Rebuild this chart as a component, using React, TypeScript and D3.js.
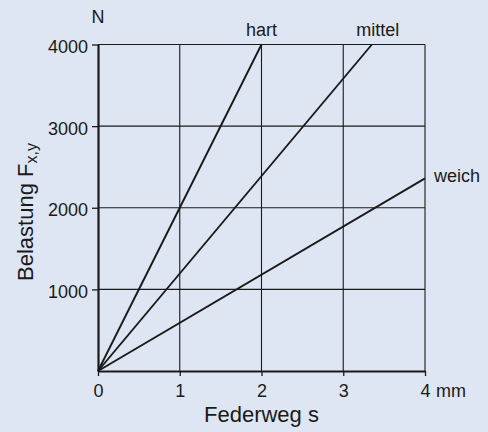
import { useEffect, useRef } from "react";
import * as d3 from "d3";

const xTicks = [0, 1, 2, 3, 4];
const yTicks = [1000, 2000, 3000, 4000];
const springNames = ["hart", "mittel", "weich"];
const hartPoints: [number, number][] = [[0, 0], [2, 4000]];
const mittelPoints: [number, number][] = [[0, 0], [3.35, 4000]];
const weichPoints: [number, number][] = [[0, 0], [4, 2360]];

export default function App() {
  const svgRef = useRef<SVGSVGElement>(null);

  useEffect(() => {
    document.body.style.margin = "0";
    if (!svgRef.current) return;
    const svg = d3.select(svgRef.current);
    svg.selectAll("*").remove();

    const W = 488;
    const H = 432;
    const font = "'Liberation Sans', Arial, Helvetica, sans-serif";
    const ink = "#1a1a1a";

    svg.append("rect").attr("width", W).attr("height", H).attr("fill", "#dee6f3");

    const x = d3.scaleLinear().domain([0, 4]).range([98, 425]);
    const y = d3.scaleLinear().domain([0, 4000]).range([371, 44.5]);

    // grid
    const grid = svg.append("g").attr("stroke", ink).attr("stroke-width", 1.1);
    grid.selectAll(".gx")
      .data(xTicks.filter((d) => d > 0))
      .enter()
      .append("line")
      .attr("x1", (d) => x(d))
      .attr("x2", (d) => x(d))
      .attr("y1", y(4000))
      .attr("y2", y(0));
    grid.selectAll(".gy")
      .data(yTicks)
      .enter()
      .append("line")
      .attr("x1", x(0))
      .attr("x2", x(4))
      .attr("y1", (d) => y(d))
      .attr("y2", (d) => y(d));

    // axes
    const yAxis = d3.axisLeft(y).tickValues(yTicks).tickSize(6).tickSizeOuter(0).tickFormat(d3.format("d"));
    const gy = svg.append("g").attr("transform", `translate(${x(0)},0)`).call(yAxis);
    gy.select(".domain").attr("stroke", ink).attr("stroke-width", 2.2);
    gy.selectAll(".tick line").attr("stroke", ink).attr("stroke-width", 1.3);
    gy.selectAll(".tick text")
      .attr("font-family", font)
      .attr("font-size", 18)
      .attr("fill", ink)
      .attr("x", -10)
      .attr("dy", "0.45em");

    const xAxis = d3.axisBottom(x).tickValues(xTicks).tickSize(5).tickSizeOuter(0).tickFormat(d3.format("d"));
    const gx = svg.append("g").attr("transform", `translate(0,${y(0)})`).call(xAxis);
    gx.select(".domain").attr("stroke", ink).attr("stroke-width", 2.2);
    gx.selectAll(".tick line").attr("stroke", ink).attr("stroke-width", 1.3);
    gx.selectAll(".tick text")
      .attr("font-family", font)
      .attr("font-size", 18)
      .attr("fill", ink)
      .attr("y", 13)
      .attr("dy", "0.71em");

    svg.append("text")
      .attr("x", x(4) + 11)
      .attr("y", y(0) + 26)
      .attr("font-family", font)
      .attr("font-size", 18)
      .attr("fill", ink)
      .text("mm");

    svg.append("text")
      .attr("x", x(0))
      .attr("y", 23)
      .attr("text-anchor", "middle")
      .attr("font-family", font)
      .attr("font-size", 18)
      .attr("fill", ink)
      .text("N");

    // spring lines
    const line = d3.line<[number, number]>().x((d) => x(d[0])).y((d) => y(d[1]));
    const series = [hartPoints, mittelPoints, weichPoints];
    svg.append("g")
      .selectAll("path")
      .data(series)
      .enter()
      .append("path")
      .attr("d", (d) => line(d))
      .attr("fill", "none")
      .attr("stroke", ink)
      .attr("stroke-width", 1.9);

    const labelPos = [
      { dx: 0, dy: -9, anchor: "middle" },
      { dx: 6, dy: -9, anchor: "middle" },
      { dx: 9, dy: 4, anchor: "start" },
    ];
    svg.append("g")
      .selectAll("text")
      .data(series)
      .enter()
      .append("text")
      .attr("x", (d, i) => x(d[1][0]) + labelPos[i].dx)
      .attr("y", (d, i) => y(d[1][1]) + labelPos[i].dy)
      .attr("text-anchor", (d, i) => labelPos[i].anchor)
      .attr("font-family", font)
      .attr("font-size", 18)
      .attr("fill", ink)
      .text((d, i) => springNames[i]);

    // axis titles
    svg.append("text")
      .attr("x", (x(0) + x(4)) / 2)
      .attr("y", 422)
      .attr("text-anchor", "middle")
      .attr("font-family", font)
      .attr("font-size", 22)
      .attr("fill", ink)
      .text("Federweg s");

    const yt = svg.append("text")
      .attr("transform", "translate(33,212) rotate(-90)")
      .attr("text-anchor", "middle")
      .attr("font-family", font)
      .attr("font-size", 22)
      .attr("fill", ink);
    yt.append("tspan").text("Belastung F");
    yt.append("tspan").attr("font-size", 16).attr("dy", 4).text("x,y");
  }, []);

  return <svg ref={svgRef} width={488} height={432} style={{ display: "block" }} />;
}
